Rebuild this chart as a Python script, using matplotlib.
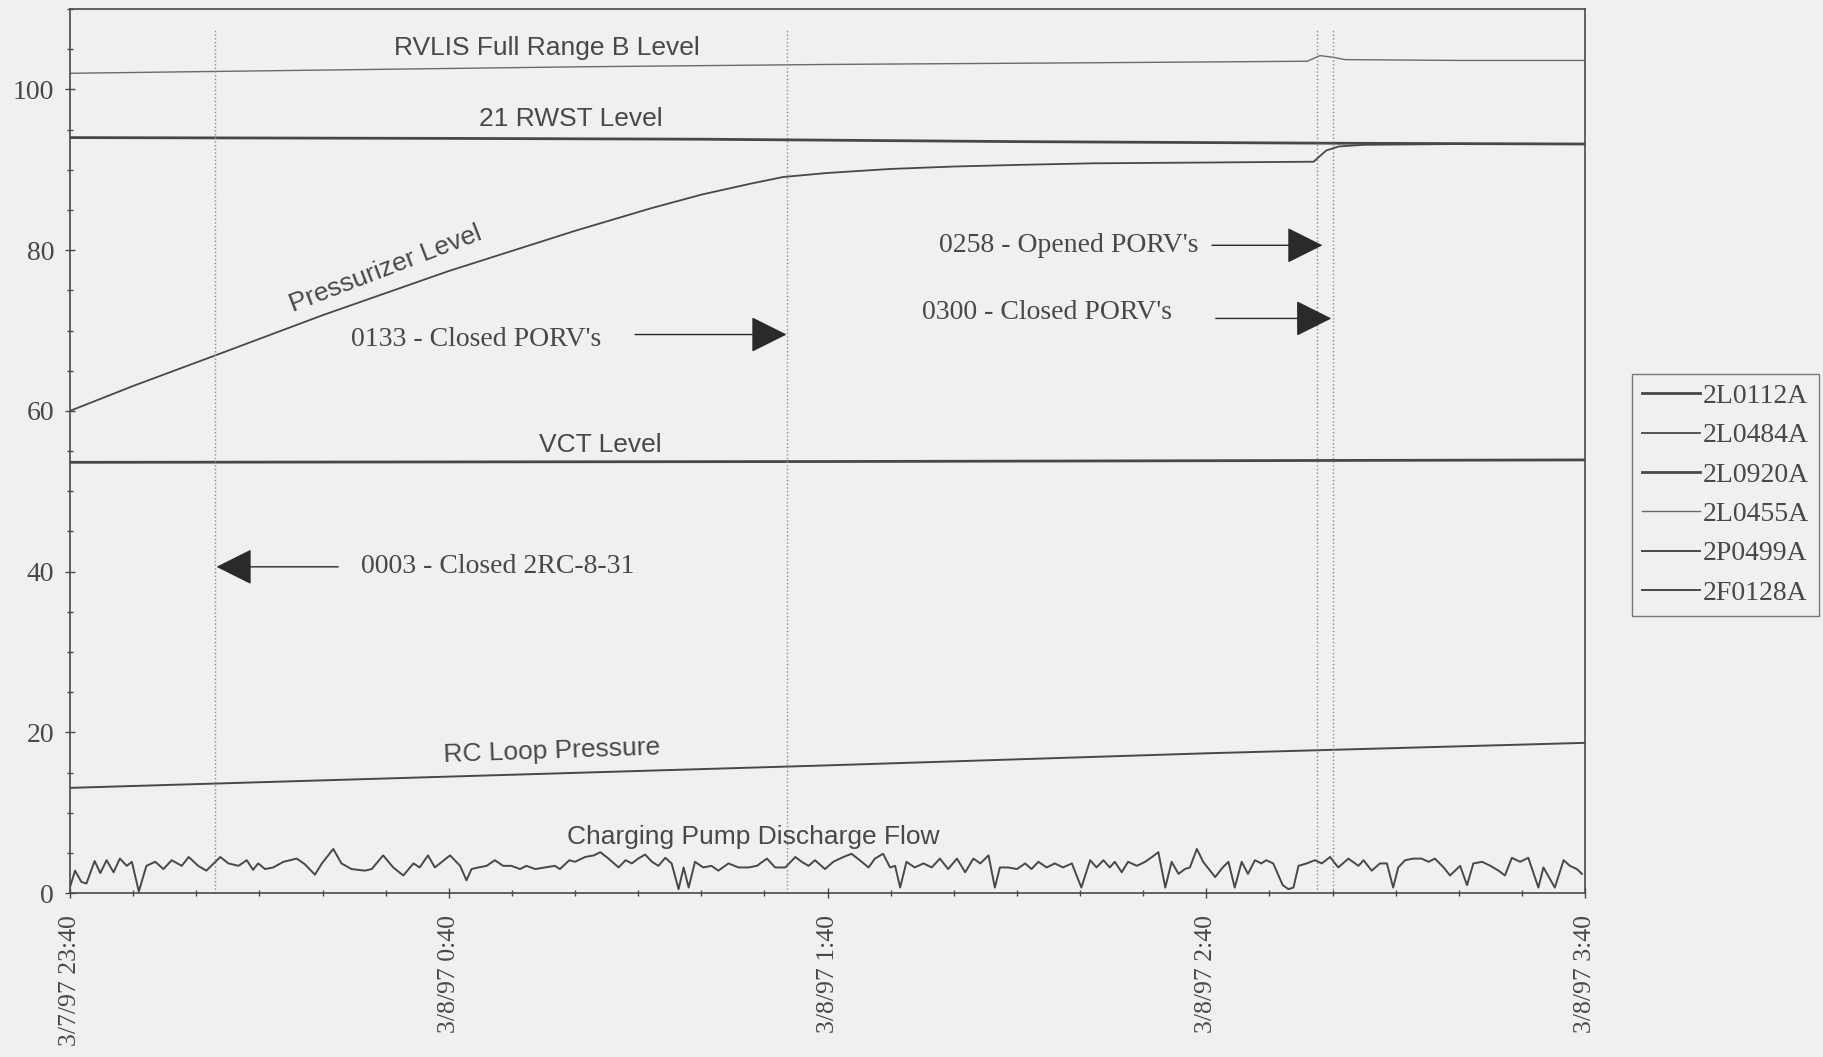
#!/usr/bin/env python
# coding=utf-8

# Plant parameter trends 3/7/97 23:40 - 3/8/97 3:40

import matplotlib
matplotlib.use('Agg')
import matplotlib.pyplot as plt
from matplotlib.ticker import MultipleLocator

# minutes after 3/7/97 23:40 and trend values
rvlis_t = [0, 40, 80, 120, 160, 196, 198, 200, 202, 220, 240]
rvlis_v = [102.0, 102.4, 102.8, 103.1, 103.3, 103.5, 104.2, 104.0, 103.7, 103.6, 103.6]

rwst_t = [0, 60, 100, 150, 200, 240]
rwst_v = [94.0, 93.9, 93.8, 93.5, 93.3, 93.2]

przr_t = [0, 10, 23, 40, 60, 80, 92, 100, 108, 113, 120, 130, 140, 150, 162, 180, 197, 199, 201, 205, 220, 240]
przr_v = [60.0, 63.1, 66.9, 71.9, 77.4, 82.4, 85.2, 86.9, 88.3, 89.1, 89.6, 90.1, 90.4, 90.6, 90.8, 90.9, 91.0,
          92.4, 92.9, 93.1, 93.2, 93.2]

vct_t = [0, 120, 240]
vct_v = [53.6, 53.7, 53.9]

rc_t = [0, 60, 120, 180, 240]
rc_v = [13.1, 14.5, 15.9, 17.4, 18.7]

flow_t = [0, 0.8, 1.8, 2.6, 3.9, 4.8, 5.8, 6.9, 7.9, 9.0, 9.8, 10.9, 12.1, 13.5, 14.8, 16.1, 17.7, 18.8,
          20.3, 21.6, 23.8, 25.1, 26.7, 28.0, 29.0, 29.8, 30.9, 32.2, 33.8, 35.9, 37.2, 38.8, 39.9, 41.7,
          43.0, 44.6, 46.7, 47.8, 49.6, 51.2, 52.8, 54.4, 55.4, 56.7, 57.8, 60.2,
          61.8, 62.8, 63.6, 64.7, 66.0, 67.3, 68.6, 69.9, 71.3, 72.3, 73.7, 75.3, 76.8, 77.6, 79.1, 80.0,
          81.6, 83.0, 84.0, 85.3, 86.9, 88.0, 89.0, 90.0, 91.1, 92.2, 93.2, 94.3, 95.3, 96.4, 97.2, 98.0,
          99.0, 100.3, 101.6, 102.7, 104.3, 105.9, 107.5, 108.8, 110.4, 111.7, 113.3, 114.9, 115.9, 117.0,
          118.0, 119.6, 120.9, 122.5, 123.8, 125.1, 126.5, 127.5, 128.8, 129.9, 130.7, 131.5, 132.5, 133.8,
          135.2, 136.5, 137.8, 139.1, 140.5, 141.8, 143.1, 144.2, 145.5, 146.5, 147.3, 148.6, 150.0, 151.3,
          152.3, 153.4, 154.7, 156.0, 157.3, 158.7, 160.2, 161.6, 162.6, 163.7, 164.7, 165.5, 166.6, 167.6,
          169.0, 170.3, 171.4, 172.4, 173.5, 174.5, 175.6, 176.6, 177.4, 178.5, 179.5, 181.4, 182.6, 183.5,
          184.5, 185.6, 186.6, 187.7, 188.7, 189.5, 190.6, 192.1, 193.0, 193.8, 194.6, 195.9, 197.2, 198.3,
          199.6, 200.9, 202.5, 204.1, 204.9, 206.2, 207.5, 208.6, 209.6, 210.4, 211.5, 212.8, 214.1, 215.2,
          216.2, 217.6, 218.6, 219.4, 220.2, 221.3, 222.3, 223.7, 225.0, 226.3, 227.3, 228.4, 229.7, 231.0,
          232.6, 233.4, 235.2, 236.6, 237.6, 238.7, 239.5]
flow_v = [0.75, 2.8, 1.4, 1.2, 4.0, 2.5, 4.1, 2.6, 4.3, 3.4, 3.9, 0.2, 3.4, 3.9, 3.0, 4.1, 3.4, 4.5,
          3.4, 2.8, 4.5, 3.7, 3.4, 4.1, 2.9, 3.7, 3.0, 3.2, 3.9, 4.3, 3.6, 2.3, 3.7, 5.5,
          3.7, 3.0, 2.8, 3.0, 4.7, 3.2, 2.2, 3.7, 3.2, 4.7, 3.2, 4.7,
          3.4, 1.6, 3.0, 3.2, 3.4, 4.1, 3.4, 3.4, 3.0, 3.4, 3.0, 3.2, 3.4, 3.0, 4.1, 3.9,
          4.5, 4.7, 5.1, 4.3, 3.2, 4.1, 3.7, 4.3, 4.8, 3.9, 3.4, 4.4, 3.7, 0.5, 3.2, 0.7,
          3.9, 3.2, 3.4, 2.8, 3.7, 3.2, 3.2, 3.4, 4.3, 3.2, 3.2, 4.5, 3.9, 3.4,
          4.1, 3.0, 3.9, 4.5, 4.9, 4.1, 3.2, 4.3, 4.9, 3.2, 3.4, 0.7, 3.9, 3.2,
          3.7, 3.2, 4.3, 3.0, 4.3, 2.6, 4.3, 3.7, 4.7, 0.7, 3.2, 3.2, 3.0, 3.7,
          3.0, 3.9, 3.2, 3.7, 3.2, 3.7, 0.7, 4.1, 3.2, 4.1, 3.2, 3.9, 2.6, 3.9,
          3.4, 3.9, 4.5, 5.1, 0.7, 3.9, 2.4, 3.0, 3.2, 5.5, 3.9, 2.0, 3.2, 3.9,
          0.7, 3.9, 2.4, 4.1, 3.7, 4.1, 3.7, 1.0, 0.5, 0.7, 3.4, 3.7, 4.1, 3.7,
          4.5, 3.2, 4.3, 3.4, 4.1, 2.8, 3.7, 3.7, 0.7, 3.2, 4.1, 4.3, 4.3, 3.9,
          4.3, 3.2, 2.2, 2.8, 3.4, 1.0, 3.7, 3.9, 3.4, 2.8, 2.2, 4.4, 3.9, 4.4,
          0.7, 3.2, 0.7, 4.1, 3.4, 3.0, 2.4]

# event markers (minutes)
event_t = [23, 113.5, 197.5, 200]

tick_pos = [0, 60, 120, 180, 240]
tick_labels = ['3/7/97 23:40', '3/8/97 0:40', '3/8/97 1:40', '3/8/97 2:40', '3/8/97 3:40']
tags = ['2L0112A', '2L0484A', '2L0920A', '2L0455A', '2P0499A', '2F0128A']

bg = '#f0f0ee'
ink = '#484848'
serif = ['Liberation Serif', 'DejaVu Serif']
sans = ['Liberation Sans', 'DejaVu Sans']

fig = plt.figure(figsize=(18.23, 10.57), dpi=100, facecolor=bg)
ax = fig.add_axes([0.0384, 0.155, 0.8311, 0.8365], facecolor=bg)

# trends
ax.plot(vct_t, vct_v, color=ink, lw=2.0, label=tags[0])
ax.plot(przr_t, przr_v, color=ink, lw=1.3, label=tags[1])
ax.plot(rwst_t, rwst_v, color=ink, lw=2.0, label=tags[2])
ax.plot(rvlis_t, rvlis_v, color='#6a6a6a', lw=1.0, label=tags[3])
ax.plot(rc_t, rc_v, color=ink, lw=1.4, label=tags[4])
ax.plot(flow_t, flow_v, color=ink, lw=1.4, label=tags[5])

ax.vlines(event_t, 0, 107.5, colors='#8a8a8a', linestyles=':', lw=1.0)

ax.set_xlim(0, 240)
ax.set_ylim(0, 110)

# series labels
lab = dict(family=sans, size=19, color=ink, ha='center', va='center')
ax.text(75.5, 105.1, 'RVLIS Full Range B Level', **lab)
ax.text(79.4, 96.3, '21 RWST Level', **lab)
ax.text(50.0, 77.6, 'Pressurizer Level', rotation=21, **lab)
ax.text(84.0, 55.7, 'VCT Level', **lab)
ax.text(76.4, 17.7, 'RC Loop Pressure', rotation=2, **lab)
ax.text(108.2, 7.0, 'Charging Pump Discharge Flow', **lab)

# event notes with arrows
note = dict(family=serif, size=20, color=ink, ha='center', va='center')
arr = dict(arrowstyle='-|>,head_length=1.0,head_width=0.5', mutation_scale=23,
           color='#2a2a2a', lw=1.0, shrinkA=0, shrinkB=0)
ax.text(64.4, 68.9, "0133 - Closed PORV's", **note)
ax.annotate('', xy=(113.5, 69.5), xytext=(89.5, 69.5), arrowprops=arr)
ax.text(158.2, 80.6, "0258 - Opened PORV's", **note)
ax.annotate('', xy=(198.4, 80.6), xytext=(180.9, 80.6), arrowprops=arr)
ax.text(154.7, 72.3, "0300 - Closed PORV's", **note)
ax.annotate('', xy=(199.8, 71.5), xytext=(181.5, 71.5), arrowprops=arr)
ax.text(67.8, 40.6, '0003 - Closed 2RC-8-31', **note)
ax.annotate('', xy=(23.2, 40.6), xytext=(42.5, 40.6), arrowprops=arr)

# axes, ticks
ax.set_xticks(tick_pos)
ax.set_xticklabels(tick_labels, rotation=90, family=serif, fontsize=18.5, color=ink)
ax.xaxis.set_minor_locator(MultipleLocator(10))
ax.yaxis.set_minor_locator(MultipleLocator(5))
ax.set_yticks([0, 20, 40, 60, 80, 100])
for t in ax.get_yticklabels():
    t.set_family(serif)
    t.set_fontsize(20)
    t.set_color(ink)
ax.tick_params(axis='both', which='both', direction='inout', color=ink, width=1.0)
ax.tick_params(axis='both', which='major', length=7)
ax.tick_params(axis='both', which='minor', length=5)
ax.tick_params(axis='x', which='major', pad=12)
ax.tick_params(axis='y', which='major', pad=8)
for s in ax.spines.values():
    s.set_color(ink)
    s.set_linewidth(1.2)

leg = fig.legend(loc='upper left', bbox_to_anchor=(0.8953, 0.6462), borderaxespad=0,
                 prop={'family': serif, 'size': 20}, handlelength=2.1, handletextpad=0.1,
                 labelspacing=0.5, frameon=True, fancybox=False, borderpad=0.35,
                 facecolor=bg, edgecolor='#777777', framealpha=1)
for t in leg.get_texts():
    t.set_color(ink)
leg.get_frame().set_linewidth(1.0)

plt.savefig('out.png', dpi=100, facecolor=bg)
